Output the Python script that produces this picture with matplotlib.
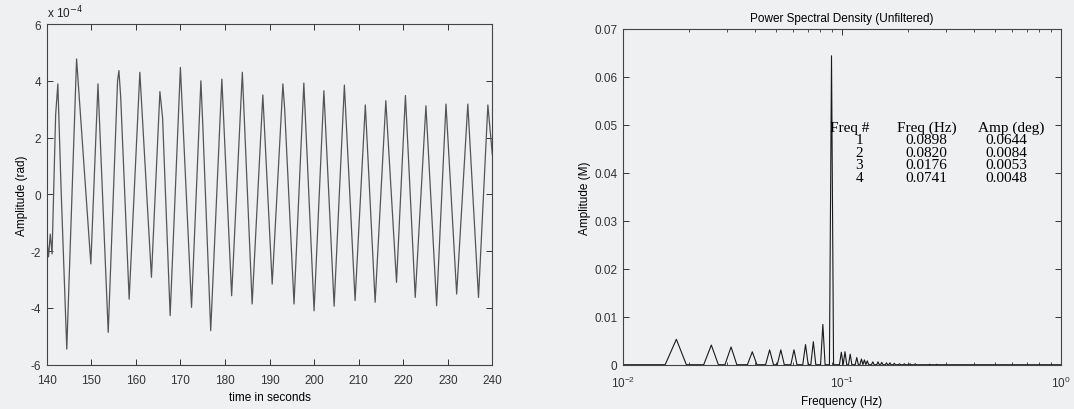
import numpy as np
import matplotlib
matplotlib.use('Agg')
import matplotlib.pyplot as plt
from matplotlib.ticker import FuncFormatter, LogLocator, MultipleLocator

# Time history: turning points of the roll response (amplitude in units of 1e-4 rad)
time_s = [140.0, 140.4, 140.8, 141.2, 142.0, 142.5, 143.2, 144.5, 146.7, 149.9,
          151.5, 153.8, 155.9, 156.2, 156.6, 158.5, 160.9, 163.5, 165.4, 166.0,
          167.7, 170.0, 172.5, 174.6, 175.0, 176.8, 179.3, 181.5, 183.9, 186.1,
          188.5, 190.6, 193.0, 193.4, 195.5, 197.7, 200.0, 202.2, 204.5, 206.8,
          209.2, 211.5, 213.7, 216.1, 218.5, 220.5, 222.7, 225.1, 227.5, 229.6,
          232.0, 234.5, 236.9, 239.0, 240.0]
amp_e4 = [-1.5, -2.2, -1.4, -2.1, 2.8, 3.89, 0.3, -5.45, 4.77, -2.45,
          3.89, -4.86, 4.0, 4.36, 3.43, -3.69, 4.3, -2.92, 3.62, 2.7,
          -4.27, 4.47, -3.98, 4.0, 2.54, -4.8, 4.06, -3.57, 4.3, -3.86,
          3.5, -3.16, 3.89, 3.0, -3.86, 3.92, -4.1, 3.65, -3.94, 3.85,
          -3.74, 3.15, -3.8, 3.3, -3.1, 3.48, -3.63, 3.12, -3.92, 3.18,
          -3.51, 3.18, -3.63, 3.15, 1.4]

# Spectrum: non-zero FFT bins (df = 1/512 Hz) and their amplitudes
df = 1.0 / 512
psd_bins = [9, 13, 16, 20, 24, 27, 31, 35, 38, 42, 46, 51, 53, 56, 60, 63, 65,
            67, 71, 75, 78, 82, 85, 89, 94, 99, 105, 111, 129, 139]
psd_amp = [0.0053, 0.0041, 0.0037, 0.0027, 0.0031, 0.0031, 0.0031, 0.0042,
           0.0048, 0.0084, 0.0644, 0.0026, 0.0027, 0.0022, 0.0015, 0.0012,
           0.0010, 0.0008, 0.0006, 0.0006, 0.0005, 0.0004, 0.0004, 0.0003,
           0.0002, 0.0002, 0.0002, 0.0002, 0.0001, 0.0001]

# Dominant peaks table
peak_rank = [1, 2, 3, 4]
peak_freq = [0.0898, 0.0820, 0.0176, 0.0741]
peak_amp = [0.0644, 0.0084, 0.0053, 0.0048]

# full spectrum, zero outside the listed bins
k_all = np.arange(1, 513)
spec = np.zeros(len(k_all))
for k, a in zip(psd_bins, psd_amp):
    spec[k - 1] = a
freq = k_all * df

paper = '#eef0f2'
plt.rcParams['font.family'] = ['Liberation Sans', 'DejaVu Sans']
plt.rcParams['font.size'] = 8.5
plt.rcParams['axes.unicode_minus'] = False
fig = plt.figure(figsize=(10.74, 4.10), dpi=100, facecolor=paper)

def matlab_axes(ax):
    ax.set_facecolor(paper)
    ax.tick_params(direction='in', top=True, right=True, length=4, width=0.7,
                   colors='#333333', labelsize=8.5)
    ax.tick_params(which='minor', direction='in', top=True, right=True,
                   length=2.5, width=0.6, colors='#333333')
    ax.tick_params(axis='x', pad=7)
    ax.tick_params(axis='y', pad=4)
    for sp in ax.spines.values():
        sp.set_color('#444444')
        sp.set_linewidth(0.8)

# Left: time history
ax1 = fig.add_axes([0.0435, 0.108, 0.4149, 0.831])
matlab_axes(ax1)
ax1.plot(time_s, amp_e4, color='#555555', lw=0.9)
ax1.set_xlim(140, 240)
ax1.set_ylim(-6, 6)
ax1.xaxis.set_major_locator(MultipleLocator(10))
ax1.yaxis.set_major_locator(MultipleLocator(2))
ax1.set_xlabel('time in seconds', labelpad=3)
ax1.set_ylabel('Amplitude (rad)', labelpad=2)
ax1.text(0.0, 1.012, 'x 10$^{-4}$', transform=ax1.transAxes, fontsize=8.5,
         ha='left', va='bottom', color='#222222')

# Right: power spectral density on log frequency axis
ax2 = fig.add_axes([0.5798, 0.108, 0.4078, 0.819])
matlab_axes(ax2)
ax2.plot(freq, spec, color='#1a1a1a', lw=0.8)
ax2.set_xscale('log')
ax2.set_xlim(0.01, 1)
ax2.set_ylim(0, 0.07)
ax2.xaxis.set_major_locator(LogLocator(base=10))
ax2.xaxis.set_minor_locator(LogLocator(base=10, subs=np.arange(2, 10)))
ax2.yaxis.set_major_locator(MultipleLocator(0.01))
ax2.yaxis.set_major_formatter(FuncFormatter(lambda v, p: '%g' % round(v, 3)))
ax2.set_xlabel('Frequency (Hz)', labelpad=4)
ax2.set_ylabel('Amplitude (M)', labelpad=2)
ax2.set_title('Power Spectral Density (Unfiltered)', fontsize=8.5, pad=6)

# peak table, placed in axes fractions
serif = ['Liberation Serif', 'DejaVu Serif']
head_x = [0.519, 0.695, 0.887]
col_x = [0.540, 0.694, 0.877]
y0 = 0.707
dy = 0.037
for x, s in zip(head_x, ['Freq #', 'Freq (Hz)', 'Amp (deg)']):
    ax2.text(x, y0, s, transform=ax2.transAxes, family=serif, fontsize=11,
             ha='center', va='center')
for i, (r, f, a) in enumerate(zip(peak_rank, peak_freq, peak_amp)):
    yy = y0 - (i + 1) * dy
    for x, s in zip(col_x, ['%d' % r, '%.4f' % f, '%.4f' % a]):
        ax2.text(x, yy, s, transform=ax2.transAxes, family=serif, fontsize=11,
                 ha='center', va='center')

fig.savefig('out.png', dpi=100, facecolor=paper)
